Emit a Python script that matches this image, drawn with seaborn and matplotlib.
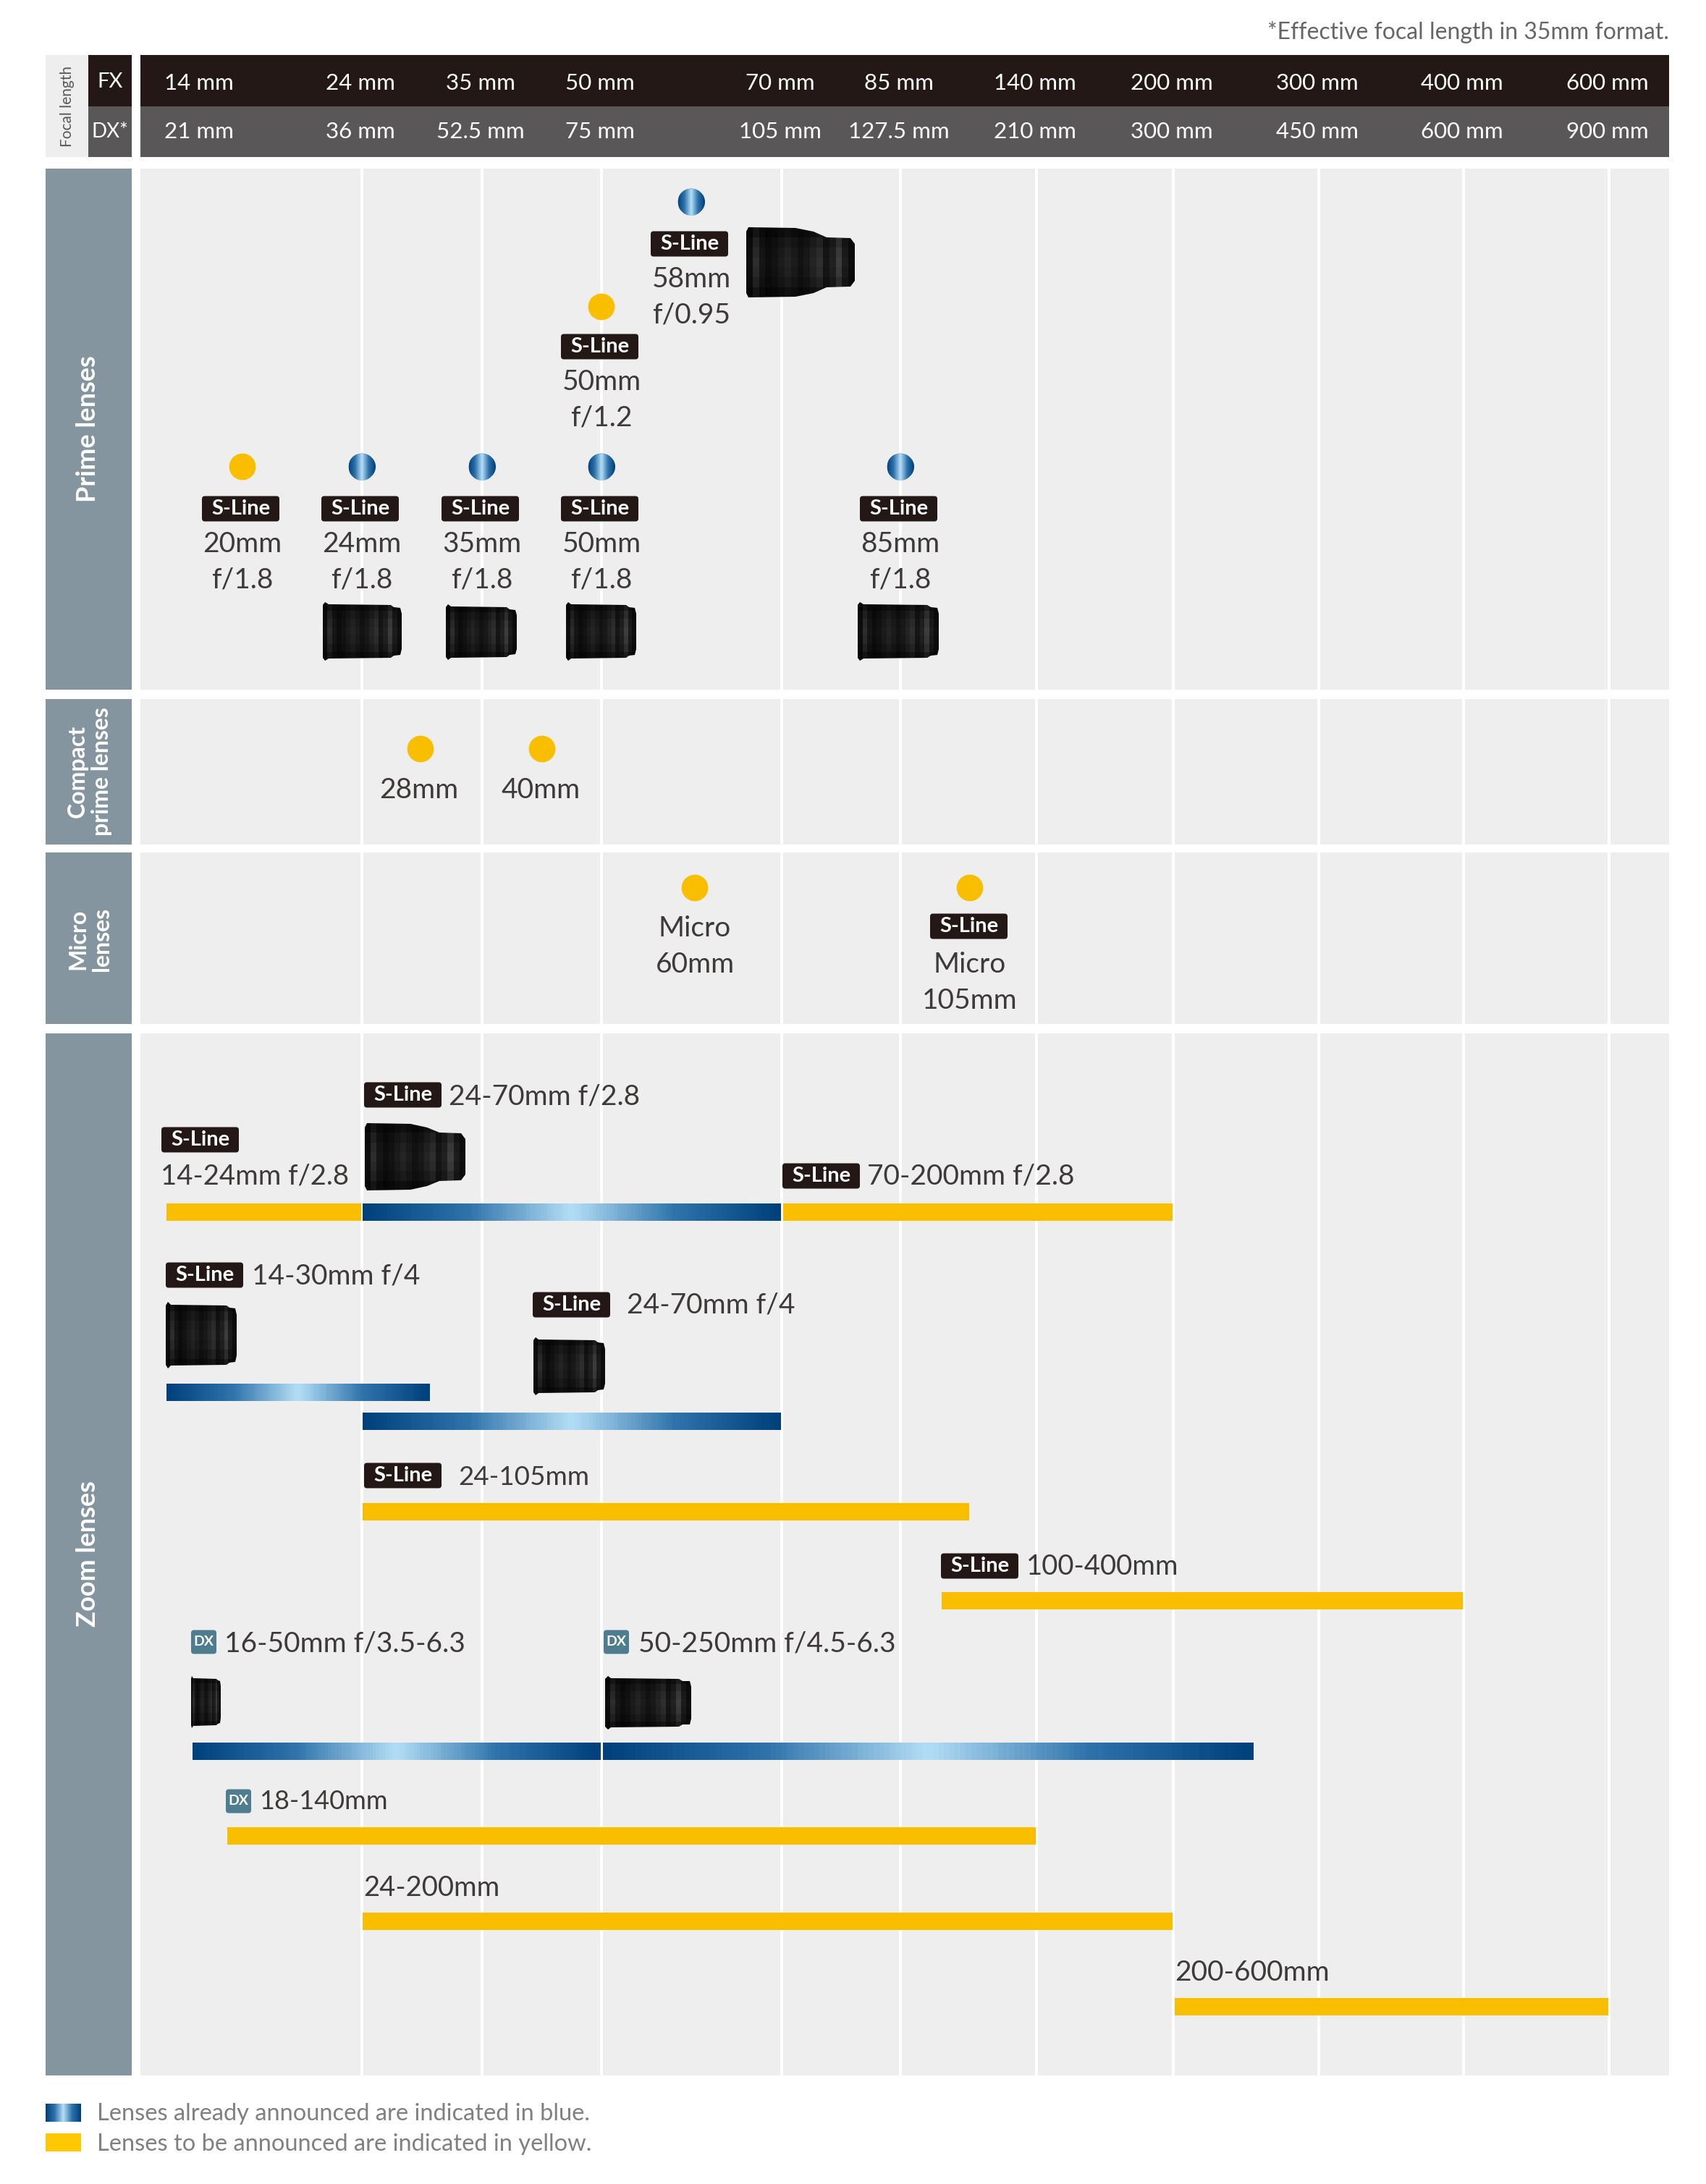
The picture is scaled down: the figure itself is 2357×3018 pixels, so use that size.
#Nikon Z lens roadmap
import numpy as np
import pandas as pd
import matplotlib
matplotlib.use('Agg')
import matplotlib.pyplot as plt
from matplotlib.colors import LinearSegmentedColormap
from matplotlib.patches import Circle, FancyBboxPatch, Polygon, Rectangle
import seaborn as sns

#---- data ----
FX_LABELS = ['14 mm', '24 mm', '35 mm', '50 mm', '70 mm', '85 mm', '140 mm', '200 mm', '300 mm', '400 mm', '600 mm']
DX_LABELS = ['21 mm', '36 mm', '52.5 mm', '75 mm', '105 mm', '127.5 mm', '210 mm', '300 mm', '450 mm', '600 mm', '900 mm']
FX_STOPS = [14, 24, 35, 50, 70, 85, 140, 200, 300, 400, 600]

prime_focal = [20, 24, 35, 50, 50, 58, 85]
prime_status = ['planned', 'out', 'out', 'out', 'planned', 'out', 'out']
prime_aperture = ['f/1.8', 'f/1.8', 'f/1.8', 'f/1.8', 'f/1.2', 'f/0.95', 'f/1.8']

compact_focal = [28, 40]
compact_status = ['planned', 'planned']

micro_focal = [60, 105]
micro_status = ['planned', 'planned']
micro_sline = [False, True]

zoom_names = ['14-24mm f/2.8', '24-70mm f/2.8', '70-200mm f/2.8', '14-30mm f/4', '24-70mm f/4', '24-105mm',
              '100-400mm', '16-50mm f/3.5-6.3', '50-250mm f/4.5-6.3', '18-140mm', '24-200mm', '200-600mm']
zoom_start = [14, 24, 70, 14, 24, 24, 100, 16, 50, 18, 24, 200]
zoom_end = [24, 70, 200, 30, 70, 105, 400, 50, 250, 140, 200, 600]
zoom_status = ['planned', 'out', 'planned', 'out', 'out', 'planned', 'planned', 'out', 'out', 'planned', 'planned', 'planned']
zoom_badge = ['S', 'S', 'S', 'S', 'S', 'S', 'S', 'DX', 'DX', 'DX', '', '']

#---- layout (pixels) ----
W, H = 2357, 3018
# the chart's focal axis is not regular: where each focal length sits across the page
SCALE_MM = [1, 14, 16, 18, 20, 24, 28, 30, 35, 40, 50, 58, 60, 70, 85, 100, 105, 140, 200, 250, 300, 400, 600, 1000]
SCALE_PX = [0, 228, 264, 312, 335, 500, 581, 595, 666, 749, 831, 955, 960, 1080, 1244, 1299, 1340, 1432, 1621, 1733, 1822, 2022, 2223, W]

prime_dot_y = [645, 645, 645, 645, 424, 279, 645]
prime_badge_y = [703, 703, 703, 703, 479, 337, 703]
compact_dot_y = [1035, 1035]
micro_dot_y = [1227, 1227]
zoom_bar_y = [1675, 1675, 1675, 1924, 1964, 2089, 2212, 2420, 2420, 2537, 2655, 2773]
# badge left, badge y, text left, text y, text size
zoom_label = [(223, 1575, 222, 1626, 27.5), (503, 1513, 620, 1515, 28), (1081, 1625, 1198, 1625, 28),
              (229, 1762, 348, 1763, 28), (736, 1803, 866, 1804, 28), (503, 2039, 633, 2041, 26.5),
              (1300, 2164, 1418, 2165, 27.5), (264, 2269, 310, 2272, 28), (834, 2269, 882, 2272, 28),
              (312, 2489, 358, 2490, 26), (0, 0, 502, 2609, 27.5), (0, 0, 1623, 2726, 28)]
# x0, x1, y0, y1, stepped rear or not
lens_boxes = [(446, 555, 832, 913, False), (616, 714, 835, 912, False), (782, 879, 832, 913, False),
              (1185, 1297, 832, 913, False), (1031, 1181, 314, 411, True), (504, 643, 1552, 1645, True),
              (229, 327, 1799, 1891, False), (737, 836, 1848, 1928, False), (264, 305, 2316, 2388, False),
              (836, 955, 2316, 2390, False)]

PANEL_L, PANEL_R = 194, 2306
SIDE_L, SIDE_R = 63, 182
panels = [(233, 953), (966, 1167), (1178, 1415), (1428, 2868)]

DARK = '#231815'
MIDGREY = '#595757'
SIDE = '#84959f'
PANEL = '#eeeeee'
YELLOW = '#fabe00'
TEXT = '#3e3a39'
BLUE_CMAP = LinearSegmentedColormap.from_list('lens_blue', ['#00407c', '#2f73ab', '#b4def6', '#2f73ab', '#00407c'])

sns.set_theme(style='white')
plt.rcParams['font.family'] = ['Lato', 'DejaVu Sans']


def forward(mm):
    return np.interp(mm, SCALE_MM, SCALE_PX)


def inverse(px):
    return np.interp(px, SCALE_PX, SCALE_MM)


def put(x, y, s, size=28, color=TEXT, ha='center', **kw):
    ax_px.text(x, y, s, fontsize=size, color=color, ha=ha, va='center', **kw)


def badge(x0, y, w=107, h=35, color=DARK, label='S-Line', size=21):
    ax_px.add_patch(FancyBboxPatch((x0, y - h / 2), w, h, boxstyle='round,pad=0,rounding_size=4',
                                   fc=color, ec='none', zorder=4))
    ax_px.text(x0 + w / 2, y, label, fontsize=size, color='white', fontweight='bold',
               ha='center', va='center', zorder=5)


def blue_band(axes, x_edges, y0, y1, clip=None):
    mesh = axes.pcolormesh(x_edges, [y0, y1], np.linspace(0, 1, len(x_edges) - 1).reshape(1, -1),
                           cmap=BLUE_CMAP, shading='flat', antialiased=False, zorder=3)
    if clip is not None:
        mesh.set_clip_path(clip)
    return mesh


def draw_lens(x0, x1, y0, y1, stepped):
    # side view of a lens: front on the left, mount on the right
    if stepped:
        outline = [(0, .06), (.02, 0), (.45, .01), (.62, .06), (.74, .14), (.96, .15), (1, .24), (1, .76),
                   (.96, .85), (.74, .86), (.62, .94), (.45, .99), (.02, 1), (0, .94)]
    else:
        outline = [(0, .05), (.03, 0), (.07, .04), (.86, .05), (.9, .09), (.98, .1), (1, .2), (1, .8),
                   (.98, .9), (.9, .91), (.86, .95), (.07, .96), (.03, 1), (0, .95)]
    outline = np.array(outline)
    pts = np.column_stack([x0 + outline[:, 0] * (x1 - x0), y0 + outline[:, 1] * (y1 - y0)])
    clip = Polygon(pts, closed=True, fc='none', ec='none', transform=ax_px.transData)
    ax_px.add_patch(clip)
    bands = np.array([.05, .16, .08, .05, .07, .10, .13, .10, .07, .09, .13, .17, .08, .12, .22, .10, .05])
    shade = np.outer(np.array([.5, .8, 1, 1.1, 1, .8, .5]), bands)
    mesh = ax_px.pcolormesh(np.linspace(x0, x1, len(bands) + 1), np.linspace(y0, y1, 8), shade,
                            cmap='gray', vmin=0, vmax=1, shading='flat', zorder=3)
    mesh.set_clip_path(clip)


fig = plt.figure(figsize=(W / 100, H / 100), dpi=100, facecolor='white')

# pixel axes for the page furniture
ax_px = fig.add_axes([0, 0, 1, 1])
ax_px.set_xlim(0, W)
ax_px.set_ylim(H, 0)
ax_px.axis('off')

# focal axes on top for bars and dots
ax = fig.add_axes([0, 0, 1, 1], zorder=2)
ax.patch.set_alpha(0)
ax.set_xscale('function', functions=(forward, inverse))
ax.set_xlim(SCALE_MM[0], SCALE_MM[-1])
ax.set_ylim(H, 0)

#---- header ----
ax_px.add_patch(Rectangle((SIDE_L, 76), 59, 141, fc=PANEL, ec='none'))
ax_px.add_patch(Rectangle((122, 76), 60, 71, fc=DARK, ec='none'))
ax_px.add_patch(Rectangle((122, 147), 60, 70, fc=MIDGREY, ec='none'))
ax_px.add_patch(Rectangle((PANEL_L, 76), PANEL_R - PANEL_L, 71, fc=DARK, ec='none'))
ax_px.add_patch(Rectangle((PANEL_L, 147), PANEL_R - PANEL_L, 70, fc=MIDGREY, ec='none'))
put(93, 147, 'Focal length', size=15, color=MIDGREY, rotation=90)
put(152, 113, 'FX', size=21, color='white')
put(152, 182, 'DX*', size=20, color='white')
for i, (fx, dx, mm) in enumerate(zip(FX_LABELS, DX_LABELS, FX_STOPS)):
    # 14 mm has no gridline, its label sits inside the first column
    x = forward(mm) + (47 if i == 0 else -2)
    put(x, 115, fx, size=22.5, color='white')
    put(x, 182, dx, size=22.5, color='white')
put(PANEL_R, 44, '*Effective focal length in 35mm format.', size=23, color='#666666', ha='right')

#---- panels ----
for top, bottom in panels:
    ax_px.add_patch(Rectangle((SIDE_L, top), SIDE_R - SIDE_L, bottom - top, fc=SIDE, ec='none'))
    ax_px.add_patch(Rectangle((PANEL_L, top), PANEL_R - PANEL_L, bottom - top, fc=PANEL, ec='none'))
ax_px.vlines(forward(FX_STOPS[1:]), panels[0][0], panels[-1][1], color='white', lw=2.9, zorder=1)
put(122, 593, 'Prime lenses', size=26, color='white', fontweight='bold', rotation=90)
put(124, 1066, 'Compact\nprime lenses', size=23, color='white', fontweight='bold', rotation=90, linespacing=1.15)
put(124, 1298, 'Micro\nlenses', size=23, color='white', fontweight='bold', rotation=90, linespacing=1.15)
put(122, 2147, 'Zoom lenses', size=26, color='white', fontweight='bold', rotation=90)

#---- dots ----
dots = pd.DataFrame({'focal': prime_focal + compact_focal + micro_focal,
                     'y': prime_dot_y + compact_dot_y + micro_dot_y,
                     'status': prime_status + compact_status + micro_status})
sns.scatterplot(data=dots, x='focal', y='y', hue='status', palette={'planned': YELLOW, 'out': '#1f6aa8'},
                s=700, linewidth=0, legend=False, ax=ax, zorder=3)
# released lenses get the blue sheen
for _, row in dots[dots.status == 'out'].iterrows():
    cx = forward(row.focal)
    clip = Circle((cx, row.y), 18.5, transform=ax_px.transData)
    blue_band(ax, inverse(np.linspace(cx - 19, cx + 19, 39)), row.y - 19, row.y + 19, clip=clip).set_zorder(4)
ax.set_axis_off()

#---- prime labels ----
for mm, aperture, y in zip(prime_focal, prime_aperture, prime_badge_y):
    x = forward(mm)
    badge(x - 56, y)
    put(x, y + 49, f'{mm}mm')
    put(x, y + 99, aperture)

for mm, y in zip(compact_focal, compact_dot_y):
    put(forward(mm) - 2, y + 57, f'{mm}mm')

for mm, sline, y in zip(micro_focal, micro_sline, micro_dot_y):
    x = forward(mm)
    if sline:
        badge(x - 55, y + 53)
        put(x, y + 106, 'Micro')
        put(x, y + 156, f'{mm}mm')
    else:
        put(x, y + 56, 'Micro')
        put(x, y + 106, f'{mm}mm')

#---- zoom bars ----
GAP = 1.5
rows = []
for i, name in enumerate(zoom_names):
    p0, p1 = forward(zoom_start[i]) + GAP, forward(zoom_end[i]) - GAP
    if zoom_status[i] == 'planned':
        rows += [{'lens': name, 'focal': inverse(p), 'y': zoom_bar_y[i]} for p in (p0, p1)]
    else:
        blue_band(ax, inverse(np.linspace(p0, p1, 121)), zoom_bar_y[i] - 12, zoom_bar_y[i] + 12)
bars = pd.DataFrame(rows)
sns.lineplot(data=bars, x='focal', y='y', units='lens', estimator=None, sort=False, color=YELLOW,
             lw=17.3, solid_capstyle='butt', legend=False, ax=ax)
ax.set_axis_off()

for name, kind, (bx, by, tx, ty, ts) in zip(zoom_names, zoom_badge, zoom_label):
    if kind == 'S':
        badge(bx, by)
    elif kind == 'DX':
        badge(bx, by, w=35, h=33, color='#4f7d90', label='DX', size=14)
    put(tx, ty, name, size=ts, ha='left')

#---- lens pictures ----
for box in lens_boxes:
    draw_lens(*box)

#---- legend ----
ax_px.pcolormesh(np.linspace(63, 112, 50), [2907, 2932], np.linspace(0, 1, 49).reshape(1, -1),
                 cmap=BLUE_CMAP, shading='flat')
ax_px.add_patch(Rectangle((63, 2948), 49, 25, fc='#ffc800', ec='none'))
put(134, 2921, 'Lenses already announced are indicated in blue.', size=23.5, color='#808080', ha='left')
put(134, 2963, 'Lenses to be announced are indicated in yellow.', size=23.5, color='#808080', ha='left')

ax.set_xlim(SCALE_MM[0], SCALE_MM[-1])
ax.set_ylim(H, 0)
ax_px.set_xlim(0, W)
ax_px.set_ylim(H, 0)
fig.savefig('out.png', dpi=100, facecolor='white')
